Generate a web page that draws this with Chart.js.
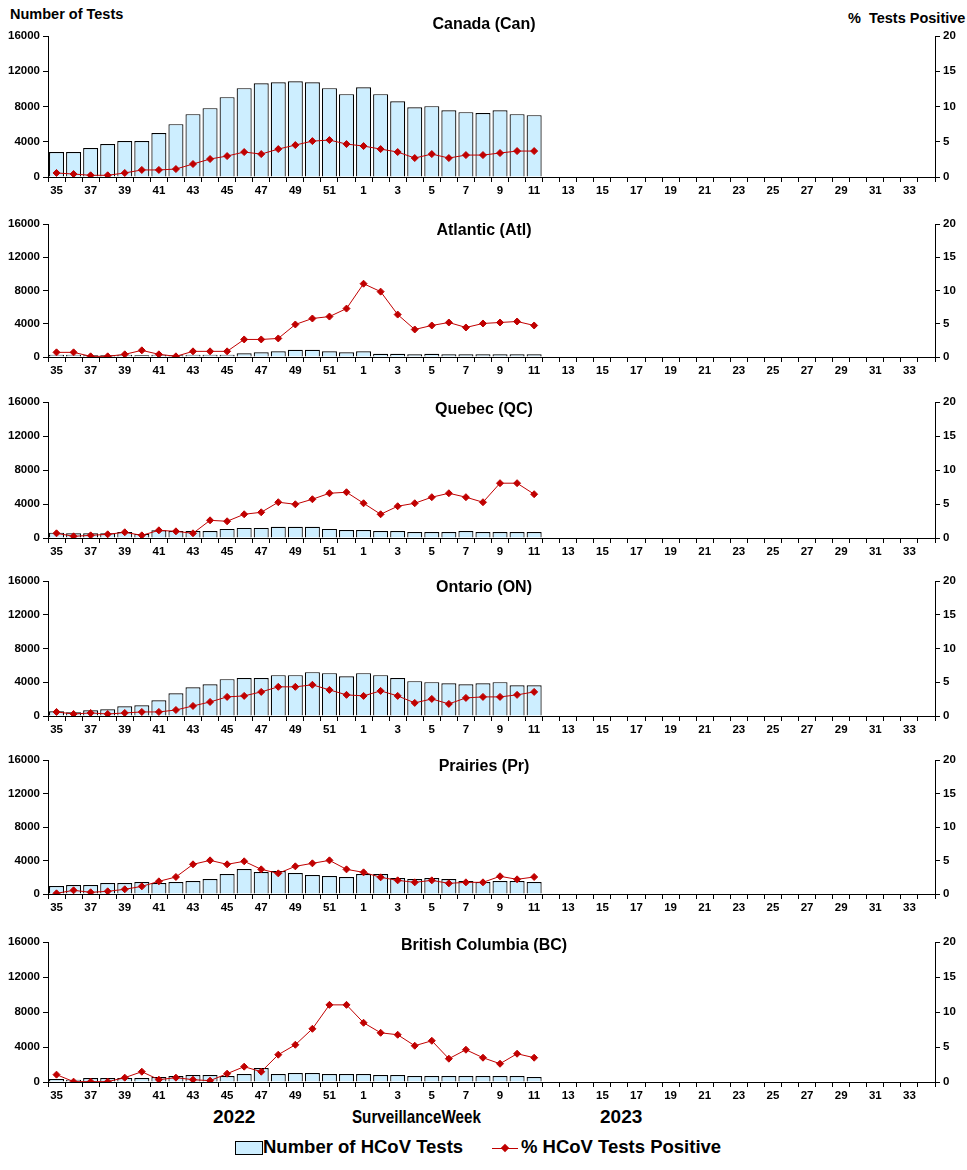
<!DOCTYPE html>
<html>
<head>
<meta charset="utf-8">
<script src="https://cdn.jsdelivr.net/npm/chart.js@4.4.0/dist/chart.umd.min.js"></script>
<style>
  body { margin: 0; background: #fff; font-family: "Liberation Sans", Arial, sans-serif; }
  #page { position: relative; width: 967px; height: 1170px; }
  .panel { position: absolute; left: 0; width: 967px; }
  .txt { position: absolute; font-weight: bold; color: #000; white-space: pre; }
  .box { position: absolute; width: 26px; height: 12px; background: #cdeeff; border: 1px solid #000; }
  .lline { position: absolute; width: 26px; height: 1px; background: #c00000; }
  .dmd { position: absolute; width: 6px; height: 6px; background: #c00000; transform: rotate(45deg); }
</style>
</head>
<body>
<div id="page">
  <div class="txt" style="left:10px; top:6px; font-size:14.5px;">Number of Tests</div>
  <div class="txt" style="left:848px; top:10px; font-size:14.5px;">%  Tests Positive</div>

  <div class="panel" style="top:0px; height:200px;"><canvas id="can"></canvas></div>
  <div class="panel" style="top:188px; height:192px;"><canvas id="atl"></canvas></div>
  <div class="panel" style="top:366px; height:195px;"><canvas id="qc"></canvas></div>
  <div class="panel" style="top:545px; height:194px;"><canvas id="on"></canvas></div>
  <div class="panel" style="top:724px; height:193px;"><canvas id="pr"></canvas></div>
  <div class="panel" style="top:906px; height:199px;"><canvas id="bc"></canvas></div>

  <div class="txt" style="left:213px; top:1106px; font-size:19px;">2022</div>
  <div class="txt" style="left:352px; top:1106px; font-size:18.5px; word-spacing:-5px; transform:scaleX(0.82); transform-origin:left top;">Surveillance Week</div>
  <div class="txt" style="left:600px; top:1106px; font-size:19px;">2023</div>

  <div class="box" style="left:235px; top:1141px;"></div>
  <div class="txt" style="left:263px; top:1136px; font-size:18.5px;">Number of HCoV Tests</div>
  <div class="lline" style="left:492px; top:1148px;"></div>
  <div class="dmd" style="left:502px; top:1145px;"></div>
  <div class="txt" style="left:521px; top:1136px; font-size:18.5px;">% HCoV Tests Positive</div>
</div>

<script>
const weeks = ["35","36","37","38","39","40","41","42","43","44","45","46","47","48","49","50","51","52",
  "1","2","3","4","5","6","7","8","9","10","11","12","13","14","15","16","17","18","19","20","21","22",
  "23","24","25","26","27","28","29","30","31","32","33","34"];

// number of HCoV tests, weeks 35 to 11
const canTests = [2830,2830,3280,3740,4080,4080,4980,6000,7130,7810,9060,10080,10640,10750,10870,10750,10080,9400,
  10190,9400,8600,7920,8040,7580,7360,7250,7580,7130,7020];
const atlTests = [280,280,200,200,280,200,280,200,280,280,280,440,560,680,880,880,680,560,
  680,400,400,320,400,320,320,320,320,320,320];
const qcTests = [630,560,560,560,710,480,910,830,830,830,1070,1190,1190,1310,1310,1310,1070,950,
  950,830,830,710,710,710,830,710,710,710,710];
const onTests = [560,440,670,790,1150,1270,1870,2700,3410,3770,4370,4490,4490,4840,4840,5200,5080,4720,
  5080,4840,4490,4130,4010,3890,3770,3890,4010,3650,3650];
const prTests = [960,1080,1080,1310,1310,1430,1310,1430,1550,1790,2390,2990,2630,2750,2510,2270,2150,2030,
  2390,2390,1910,1790,1910,1790,1550,1430,1550,1550,1430];
const bcTests = [340,270,460,460,460,460,570,690,800,800,690,910,1600,910,1030,1030,910,910,
  910,800,800,690,690,690,690,690,690,690,570];

// % HCoV tests positive
const canPos = [0.57,0.42,0.24,0.24,0.57,1.0,1.0,1.13,1.84,2.55,2.97,3.54,3.25,3.96,4.53,5.09,5.24,4.67,
  4.39,3.96,3.54,2.69,3.25,2.69,3.11,3.11,3.4,3.68,3.68];
const atlPos = [0.7,0.7,0.1,0.1,0.4,1.0,0.4,0.1,0.85,0.85,0.85,2.64,2.64,2.79,4.89,5.79,6.08,7.28,
  11.02,9.83,6.38,4.14,4.74,5.19,4.44,5.04,5.19,5.34,4.74];
const qcPos = [0.69,0.25,0.39,0.54,0.84,0.39,1.13,0.98,0.69,2.6,2.46,3.49,3.78,5.26,4.96,5.7,6.58,6.73,
  5.11,3.49,4.67,5.11,6.0,6.58,6.0,5.26,8.06,8.06,6.44];
const onPos = [0.6,0.3,0.45,0.3,0.45,0.6,0.6,0.89,1.49,2.08,2.83,2.98,3.57,4.32,4.32,4.62,3.87,3.13,
  2.98,3.72,2.98,1.94,2.53,1.79,2.68,2.83,2.83,3.13,3.57];
const prPos = [0.1,0.55,0.25,0.4,0.7,1.14,1.89,2.54,4.43,5.02,4.43,4.88,3.68,3.08,4.13,4.58,5.02,3.68,
  3.23,2.49,2.04,1.74,2.04,1.59,1.74,1.74,2.64,2.19,2.54];
const bcPos = [1.05,0.05,0.05,0.05,0.62,1.47,0.33,0.62,0.33,0.19,1.19,2.19,1.47,3.9,5.32,7.6,11.02,11.02,
  8.46,7.03,6.75,5.18,5.89,3.33,4.61,3.47,2.61,4.04,3.47];

const testTicks = [0, 4000, 8000, 12000, 16000];
const posTicks = [0, 5, 10, 15, 20];

Chart.defaults.font.family = "'Liberation Sans', Arial, sans-serif";
Chart.defaults.color = "#000";

// rest of the season has no data yet
const pad = (arr) => arr.concat(new Array(weeks.length - arr.length).fill(null));

const panelTitle = {
  id: "panelTitle",
  afterDraw(chart, args, opts) {
    const ctx = chart.ctx;
    ctx.save();
    ctx.font = "bold 16px 'Liberation Sans', Arial, sans-serif";
    ctx.fillStyle = "#000";
    ctx.textAlign = "center";
    ctx.textBaseline = "middle";
    ctx.fillText(opts.text, 484, chart.chartArea.top + opts.dy);
    ctx.restore();
  },
};

function makePanel(id, title, dy, tests, pos) {
  const tickFont = { size: 11.5, weight: "bold" };
  return new Chart(document.getElementById(id), {
    type: "bar",
    data: {
      labels: weeks,
      datasets: [
        {
          type: "line",
          label: "% HCoV Tests Positive",
          data: pad(pos),
          yAxisID: "y1",
          borderColor: "#c00000",
          backgroundColor: "#c00000",
          borderWidth: 1,
          pointStyle: "rectRot",
          pointRadius: 3.5,
          spanGaps: false,
          order: 0,
        },
        {
          label: "Number of HCoV Tests",
          data: pad(tests),
          yAxisID: "y",
          backgroundColor: "#cdeeff",
          borderColor: "#000",
          borderWidth: 1.2,
          categoryPercentage: 1,
          barPercentage: 0.88,
          order: 1,
        },
      ],
    },
    options: {
      responsive: true,
      maintainAspectRatio: false,
      animation: false,
      layout: { padding: { top: 36, left: 0, right: 0, bottom: 0 } },
      plugins: {
        legend: { display: false },
        tooltip: { enabled: false },
        panelTitle: { text: title, dy: dy },
      },
      scales: {
        x: {
          offset: true,
          grid: { offset: true, drawOnChartArea: false, drawTicks: true, tickLength: 5, color: "#000" },
          border: { color: "#000", width: 1 },
          ticks: {
            autoSkip: false,
            maxRotation: 0,
            padding: 2,
            font: tickFont,
            callback: (v, i) => (i % 2 === 0 ? weeks[i] : ""),
          },
          afterFit: (s) => { s.height = 23; },
        },
        y: {
          position: "left",
          min: 0,
          max: 16000,
          afterBuildTicks: (s) => { s.ticks = testTicks.map((v) => ({ value: v })); },
          grid: { drawOnChartArea: false, tickLength: 5, color: "#000" },
          border: { color: "#000", width: 1 },
          ticks: { font: tickFont, padding: 3, callback: (v) => String(v) },
          afterFit: (s) => { s.width = 48; },
        },
        y1: {
          position: "right",
          min: 0,
          max: 20,
          afterBuildTicks: (s) => { s.ticks = posTicks.map((v) => ({ value: v })); },
          grid: { drawOnChartArea: false, tickLength: 5, color: "#000" },
          border: { color: "#000", width: 1 },
          ticks: { font: tickFont, padding: 3, callback: (v) => String(v) },
          afterFit: (s) => { s.width = 32; },
        },
      },
    },
    plugins: [panelTitle],
  });
}

makePanel("can", "Canada (Can)", -11, canTests, canPos);
makePanel("atl", "Atlantic (Atl)", 7, atlTests, atlPos);
makePanel("qc", "Quebec (QC)", 8, qcTests, qcPos);
makePanel("on", "Ontario (ON)", 7, onTests, onPos);
makePanel("pr", "Prairies (Pr)", 7, prTests, prPos);
makePanel("bc", "British Columbia (BC)", 4, bcTests, bcPos);
</script>
</body>
</html>
